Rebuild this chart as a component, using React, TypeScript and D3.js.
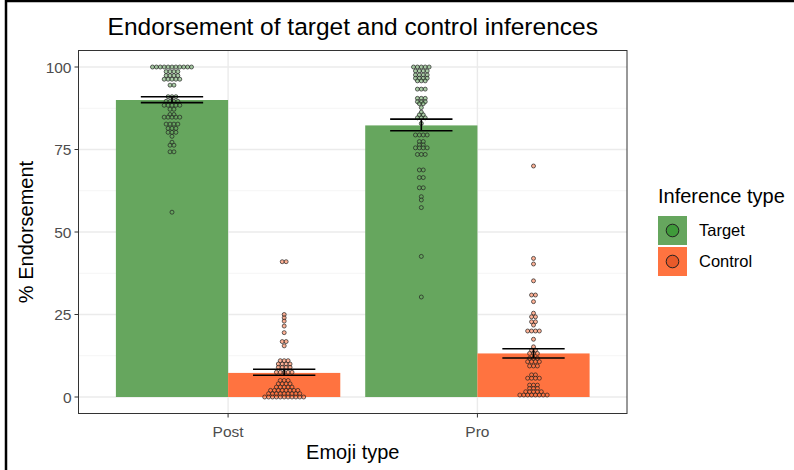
import React from "react";
import * as d3 from "d3";

// categories
const emojiTypes = ["Post", "Pro"];
const inferenceTypes = ["Target", "Control"];

// bar heights (% endorsement) and error bar limits
const meanTarget = [90.0, 82.3];
const meanControl = [7.3, 13.2];
const ciTarget = [[89.2, 91.0], [80.7, 84.2]];
const ciControl = [[6.6, 8.4], [11.8, 14.6]];

// dot plot bins: [value, number of participants]
const dotsPostTarget = [
  [100, 11], [98.6, 4], [97.4, 4], [96.3, 5], [94.5, 2], [91, 3], [89.6, 4], [88.4, 5],
  [87.2, 2], [85.6, 2], [84.8, 5], [82.7, 4], [81.4, 3], [80.2, 3], [79, 1], [77.2, 1],
  [76.3, 2], [74.3, 2], [56, 1],
];
const dotsPostControl = [
  [41, 2], [25, 1], [24, 1], [23, 1], [21.5, 1], [19.5, 1], [16.8, 2], [15.5, 1],
  [11, 3], [10, 4], [9, 4], [7.5, 5], [5, 3], [4, 4], [3, 5], [2, 8], [1, 9], [0, 11],
];
const dotsProTarget = [
  [100, 5], [98.8, 4], [97.6, 4], [96.6, 4], [95.8, 3], [93.3, 3], [90.5, 3], [89.5, 3],
  [88.9, 2], [87.7, 1], [86.3, 1], [85.5, 2], [84.6, 3], [82.9, 1], [79.4, 4], [77.4, 2],
  [76.4, 2], [75.5, 4], [73.5, 3], [68.8, 2], [66.5, 2], [63.4, 2], [60.7, 1], [59.7, 1],
  [57.4, 1], [42.6, 1], [30.3, 1],
];
const dotsProControl = [
  [70, 1], [42, 1], [40.3, 1], [35.2, 1], [30.9, 2], [28.9, 1], [25.4, 1], [24.3, 2],
  [22.8, 2], [21.8, 1], [20, 4], [17.5, 1], [15.2, 1], [14.2, 2], [13.2, 3], [11.7, 3],
  [10.7, 4], [9.4, 3], [6.7, 2], [5.7, 4], [3.6, 3], [2.6, 3], [1.6, 5], [0.6, 8],
];

const yTicks = [0, 25, 50, 75, 100];
const yMinor = [12.5, 37.5, 62.5, 87.5];

const colors: Record<string, string> = { Target: "#66a65e", Control: "#ff7340" };
const keyDot: Record<string, string> = { Target: "#3f9a3a", Control: "#e85a2a" };

const font = "'Liberation Sans', Arial, Helvetica, sans-serif";

export default function App() {
  const width = 794;
  const height = 470;
  const panel = { left: 78.5, right: 627, top: 50.5, bottom: 413.5 };

  const x = d3.scaleLinear().domain([0.4, 2.6]).range([panel.left, panel.right]);
  const dodge = d3.scaleBand<string>().domain(inferenceTypes).range([-0.45, 0.45]);
  const y = d3.scaleLinear().domain([-5, 105]).range([panel.bottom, panel.top]);

  const unit = x(1) - x(0);
  const barW = dodge.bandwidth() * unit;
  const center = (g: number, inf: string) => x(g + 1) + (dodge(inf)! + dodge.bandwidth() / 2) * unit;

  const bars = emojiTypes.flatMap((e, g) => [
    { g, inf: "Target", mean: meanTarget[g], ci: ciTarget[g], dots: g === 0 ? dotsPostTarget : dotsProTarget },
    { g, inf: "Control", mean: meanControl[g], ci: ciControl[g], dots: g === 0 ? dotsPostControl : dotsProControl },
  ]);

  const dotR = 2;
  const dotStep = 3.9;
  const errHalf = 0.125 * unit;

  return (
    <div style={{ position: "absolute", left: 0, top: 0 }}>
      <svg width={width} height={height} style={{ display: "block", background: "#fff" }} fontFamily={font}>
        {/* frame */}
        <line x1={6} y1={1} x2={width} y2={1} stroke="#000" strokeWidth={2.5} />
        <line x1={6} y1={0} x2={6} y2={height} stroke="#000" strokeWidth={2.5} />

        {/* grid */}
        {yMinor.map((t) => (
          <line key={"m" + t} x1={panel.left} x2={panel.right} y1={y(t)} y2={y(t)} stroke="#f2f2f2" strokeWidth={0.8} />
        ))}
        {yTicks.map((t) => (
          <line key={"g" + t} x1={panel.left} x2={panel.right} y1={y(t)} y2={y(t)} stroke="#ebebeb" strokeWidth={1.4} />
        ))}
        {emojiTypes.map((e, i) => (
          <line key={"v" + e} x1={x(i + 1)} x2={x(i + 1)} y1={panel.top} y2={panel.bottom} stroke="#ebebeb" strokeWidth={1.4} />
        ))}

        {/* bars */}
        {bars.map((b) => (
          <rect
            key={"b" + b.g + b.inf}
            x={center(b.g, b.inf) - barW / 2}
            y={y(b.mean)}
            width={barW}
            height={y(0) - y(b.mean)}
            fill={colors[b.inf]}
          />
        ))}

        {/* dots */}
        {bars.map((b) =>
          b.dots.flatMap(([v, n]) =>
            d3.range(n).map((i) => (
              <circle
                key={`d${b.g}${b.inf}${v}-${i}`}
                cx={center(b.g, b.inf) + (i - (n - 1) / 2) * dotStep}
                cy={y(v)}
                r={dotR}
                fill={colors[b.inf]}
                fillOpacity={0.55}
                stroke="#222"
                strokeWidth={0.7}
              />
            ))
          )
        )}

        {/* error bars */}
        {bars.map((b) => {
          const cx = center(b.g, b.inf);
          return (
            <g key={"e" + b.g + b.inf} stroke="#000" strokeWidth={1.6}>
              <line x1={cx - errHalf} x2={cx + errHalf} y1={y(b.ci[0])} y2={y(b.ci[0])} />
              <line x1={cx - errHalf} x2={cx + errHalf} y1={y(b.ci[1])} y2={y(b.ci[1])} />
              <line x1={cx} x2={cx} y1={y(b.ci[0])} y2={y(b.ci[1])} />
            </g>
          );
        })}

        {/* panel border */}
        <rect
          x={panel.left}
          y={panel.top}
          width={panel.right - panel.left}
          height={panel.bottom - panel.top}
          fill="none"
          stroke="#333"
          strokeWidth={1}
        />

        {/* y axis */}
        {yTicks.map((t) => (
          <g key={"yt" + t}>
            <line x1={panel.left - 4} x2={panel.left} y1={y(t)} y2={y(t)} stroke="#333" strokeWidth={1} />
            <text x={panel.left - 7} y={y(t)} dy="0.36em" textAnchor="end" fontSize={15.5} fill="#4d4d4d">
              {t}
            </text>
          </g>
        ))}
        <text
          transform={`translate(33,${(panel.top + panel.bottom) / 2}) rotate(-90)`}
          textAnchor="middle"
          fontSize={20}
          fill="#000"
        >
          % Endorsement
        </text>

        {/* x axis */}
        {emojiTypes.map((e, i) => (
          <g key={"xt" + e}>
            <line x1={x(i + 1)} x2={x(i + 1)} y1={panel.bottom} y2={panel.bottom + 4} stroke="#333" strokeWidth={1} />
            <text x={x(i + 1)} y={panel.bottom + 23} textAnchor="middle" fontSize={15.5} fill="#4d4d4d">
              {e}
            </text>
          </g>
        ))}
        <text x={(panel.left + panel.right) / 2} y={459} textAnchor="middle" fontSize={20} fill="#000">
          Emoji type
        </text>

        {/* title */}
        <text x={(panel.left + panel.right) / 2} y={35} textAnchor="middle" fontSize={24.5} fill="#000">
          Endorsement of target and control inferences
        </text>

        {/* legend */}
        <text x={658} y={203} fontSize={20} fill="#000">
          Inference type
        </text>
        {inferenceTypes.map((inf, i) => {
          const ky = 216 + i * 31;
          return (
            <g key={"lg" + inf}>
              <rect x={658} y={ky} width={29} height={29} fill={colors[inf]} />
              <circle cx={672.5} cy={ky + 14.5} r={6.3} fill={keyDot[inf]} stroke="#222" strokeWidth={1} />
              <text x={699} y={ky + 14.5} dy="0.36em" fontSize={16.5} fill="#000">
                {inf}
              </text>
            </g>
          );
        })}
      </svg>
    </div>
  );
}
